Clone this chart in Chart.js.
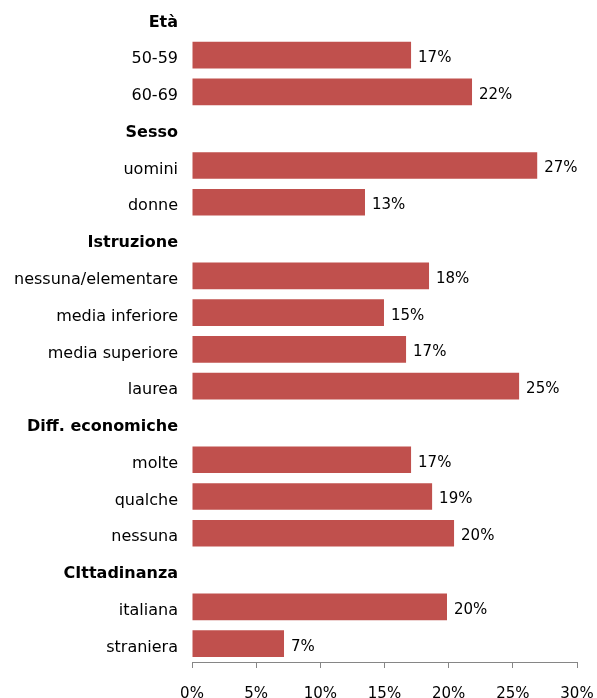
<!DOCTYPE html>
<html>
<head>
<meta charset="utf-8">
<script src="https://cdn.jsdelivr.net/npm/chart.js@4/dist/chart.umd.min.js"></script>
<style>
html,body{margin:0;padding:0;background:#fff;overflow:hidden;}
canvas{display:block;}
</style>
</head>
<body>
<canvas id="c" width="597" height="703"></canvas>
<script>
const categories = ["Età","50-59","60-69","Sesso","uomini","donne","Istruzione","nessuna/elementare","media inferiore","media superiore","laurea","Diff. economiche","molte","qualche","nessuna","CIttadinanza","italiana","straniera"];
const headers = ["Età","Sesso","Istruzione","Diff. economiche","CIttadinanza"];
const values = [null,17.07,21.82,null,26.9,13.48,null,18.47,14.96,16.68,25.49,null,17.07,18.71,20.42,null,19.87,7.17];
const xTicks = [0,5,10,15,20,25,30];

const FONT = "'DejaVu Sans', sans-serif";

const valueLabels = {
  id: 'valueLabels',
  afterDatasetsDraw(chart) {
    const ctx = chart.ctx;
    const meta = chart.getDatasetMeta(0);
    ctx.save();
    ctx.font = "15px " + FONT;
    ctx.fillStyle = '#000';
    ctx.textAlign = 'left';
    ctx.textBaseline = 'middle';
    meta.data.forEach((el, i) => {
      const v = values[i];
      if (v === null || v === undefined) return;
      ctx.fillText(Math.round(v) + '%', el.x + 7, el.y + 3);
    });
    ctx.restore();
  }
};

new Chart(document.getElementById('c'), {
  type: 'bar',
  data: {
    labels: categories,
    datasets: [{
      data: values,
      backgroundColor: '#C0504D',
      borderWidth: 0,
      categoryPercentage: 1,
      barPercentage: 0.725
    }]
  },
  options: {
    indexAxis: 'y',
    responsive: false,
    animation: false,
    layout: { padding: { left: 0, right: 20, top: 0, bottom: 0 } },
    plugins: { legend: { display: false }, tooltip: { enabled: false } },
    scales: {
      y: {
        grid: { display: false, drawTicks: false },
        border: { display: false },
        afterFit(scale) {
          scale.width = 192;
          scale.paddingTop = 0; scale.paddingBottom = 0;
        },
        ticks: {
          padding: 14,
          labelOffset: 4,
          color: '#000',
          font: (c) => {
            const lbl = categories[c.index];
            return headers.includes(lbl)
              ? { family: FONT, size: 16, weight: 'bold' }
              : { family: FONT, size: 16, weight: 'normal' };
          }
        }
      },
      x: {
        min: 0, max: 30,
        afterBuildTicks(scale) { scale.ticks = xTicks.map(v => ({ value: v })); },
        afterFit(scale) {
          scale.height = 41;
          scale.paddingLeft = 0; scale.paddingRight = 0;
        },
        grid: { display: true, drawOnChartArea: false, drawTicks: true, tickLength: 6, color: '#868686' },
        border: { display: true, color: '#868686' },
        ticks: {
          padding: 17,
          color: '#000',
          font: { family: FONT, size: 15 },
          maxRotation: 0,
          callback: (v) => v + '%'
        }
      }
    }
  },
  plugins: [valueLabels]
});
</script>
</body>
</html>
